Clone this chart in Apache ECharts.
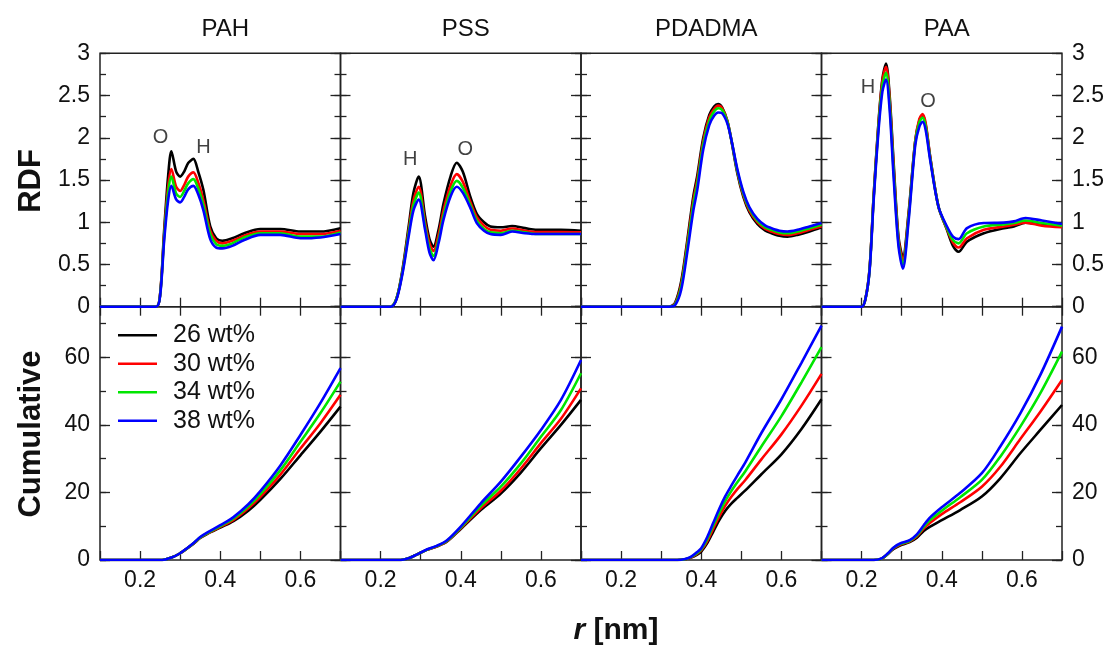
<!DOCTYPE html>
<html>
<head>
<meta charset="utf-8">
<script src="https://cdn.jsdelivr.net/npm/echarts@6/dist/echarts.min.js"></script>
<style>
html,body{margin:0;padding:0;background:#fff;}
#chart{width:1110px;height:648px;}
</style>
</head>
<body>
<div id="chart"></div>
<script>
// ---------------- DATA ----------------
const polymers = ['PAH', 'PSS', 'PDADMA', 'PAA'];
const concentrations = ['26 wt%', '30 wt%', '34 wt%', '38 wt%'];
const xTickLabels = ['0.2', '0.4', '0.6'];
const rdfTickLabels = ['0', '0.5', '1', '1.5', '2', '2.5', '3'];
const cumTickLabels = ['0', '20', '40', '60'];

// RDF – PAH
const pahRdfR  = [0.10, 0.24, 0.25, 0.26, 0.27, 0.278, 0.29, 0.30, 0.31, 0.32, 0.333, 0.345, 0.358, 0.375, 0.39, 0.405, 0.43, 0.46, 0.50, 0.55, 0.60, 0.65, 0.70];
const pahRdf26 = [0, 0, 0.15, 0.9, 1.55, 1.84, 1.6, 1.54, 1.6, 1.7, 1.75, 1.6, 1.38, 0.95, 0.81, 0.78, 0.81, 0.87, 0.92, 0.92, 0.89, 0.89, 0.93];
const pahRdf30 = [0, 0, 0.15, 0.85, 1.42, 1.63, 1.42, 1.37, 1.44, 1.54, 1.59, 1.47, 1.26, 0.9, 0.78, 0.75, 0.78, 0.84, 0.89, 0.89, 0.86, 0.86, 0.90];
const pahRdf34 = [0, 0, 0.14, 0.82, 1.35, 1.54, 1.34, 1.30, 1.37, 1.46, 1.51, 1.40, 1.2, 0.86, 0.74, 0.72, 0.75, 0.82, 0.87, 0.87, 0.83, 0.83, 0.88];
const pahRdf38 = [0, 0, 0.13, 0.78, 1.26, 1.43, 1.27, 1.235, 1.3, 1.39, 1.43, 1.33, 1.14, 0.8, 0.7, 0.69, 0.72, 0.79, 0.85, 0.85, 0.81, 0.82, 0.86];

// RDF – PSS
const pssRdfR  = [0.10, 0.225, 0.24, 0.255, 0.27, 0.282, 0.295, 0.311, 0.322, 0.332, 0.345, 0.357, 0.375, 0.39, 0.405, 0.424, 0.44, 0.458, 0.474, 0.50, 0.528, 0.56, 0.59, 0.65, 0.70];
const pssRdf26 = [0, 0, 0.1, 0.45, 0.95, 1.35, 1.54, 1.07, 0.8, 0.71, 0.92, 1.22, 1.55, 1.705, 1.6, 1.30, 1.1, 1.0, 0.95, 0.94, 0.955, 0.93, 0.91, 0.91, 0.90];
const pssRdf30 = [0, 0, 0.1, 0.43, 0.9, 1.26, 1.42, 1.0, 0.75, 0.66, 0.86, 1.14, 1.44, 1.57, 1.48, 1.24, 1.06, 0.96, 0.91, 0.9, 0.925, 0.9, 0.885, 0.885, 0.88];
const pssRdf34 = [0, 0, 0.1, 0.42, 0.87, 1.2, 1.35, 0.95, 0.69, 0.60, 0.8, 1.08, 1.37, 1.49, 1.41, 1.2, 1.02, 0.92, 0.88, 0.87, 0.9, 0.88, 0.86, 0.86, 0.86];
const pssRdf38 = [0, 0, 0.09, 0.40, 0.83, 1.14, 1.27, 0.91, 0.64, 0.55, 0.76, 1.03, 1.31, 1.42, 1.35, 1.17, 0.99, 0.9, 0.86, 0.85, 0.89, 0.87, 0.86, 0.86, 0.86];

// RDF – PDADMA
const pdadmaRdfR  = [0.10, 0.32, 0.335, 0.35, 0.365, 0.38, 0.39, 0.405, 0.42, 0.432, 0.442, 0.452, 0.465, 0.475, 0.49, 0.505, 0.52, 0.54, 0.56, 0.575, 0.595, 0.615, 0.64, 0.67, 0.70];
const pdadmaRdf26 = [0, 0, 0.05, 0.3, 0.78, 1.3, 1.55, 2.0, 2.27, 2.37, 2.40, 2.36, 2.2, 1.97, 1.58, 1.3, 1.12, 0.98, 0.9, 0.87, 0.84, 0.83, 0.85, 0.89, 0.94];
const pdadmaRdf30 = [0, 0, 0.04, 0.27, 0.74, 1.25, 1.5, 1.96, 2.24, 2.34, 2.38, 2.35, 2.2, 1.98, 1.6, 1.32, 1.14, 1.0, 0.92, 0.89, 0.86, 0.85, 0.87, 0.91, 0.95];
const pdadmaRdf34 = [0, 0, 0.03, 0.24, 0.70, 1.2, 1.45, 1.92, 2.2, 2.31, 2.35, 2.33, 2.19, 1.98, 1.61, 1.34, 1.16, 1.02, 0.94, 0.91, 0.88, 0.87, 0.89, 0.93, 0.97];
const pdadmaRdf38 = [0, 0, 0.02, 0.2, 0.64, 1.13, 1.38, 1.86, 2.15, 2.26, 2.3, 2.29, 2.17, 1.98, 1.63, 1.36, 1.18, 1.04, 0.96, 0.93, 0.9, 0.89, 0.91, 0.95, 0.99];

// RDF – PAA
const paaRdfR  = [0.10, 0.20, 0.21, 0.22, 0.23, 0.242, 0.252, 0.261, 0.27, 0.28, 0.292, 0.303, 0.317, 0.334, 0.344, 0.352, 0.36, 0.371, 0.392, 0.413, 0.428, 0.442, 0.463, 0.505, 0.555, 0.58, 0.609, 0.65, 0.70];
const paaRdf26 = [0, 0, 0.1, 0.45, 1.3, 2.17, 2.7, 2.88, 2.5, 1.70, 0.83, 0.59, 1.1, 1.97, 2.2, 2.27, 2.15, 1.78, 1.18, 0.91, 0.72, 0.65, 0.77, 0.87, 0.93, 0.95, 0.995, 0.97, 0.955];
const paaRdf30 = [0, 0, 0.1, 0.45, 1.3, 2.15, 2.68, 2.84, 2.46, 1.65, 0.8, 0.55, 1.07, 1.97, 2.22, 2.28, 2.17, 1.78, 1.18, 0.92, 0.76, 0.70, 0.81, 0.91, 0.95, 0.97, 0.995, 0.96, 0.94];
const paaRdf34 = [0, 0, 0.1, 0.44, 1.28, 2.12, 2.62, 2.77, 2.4, 1.6, 0.76, 0.5, 1.04, 1.95, 2.18, 2.24, 2.13, 1.76, 1.18, 0.93, 0.79, 0.75, 0.87, 0.95, 0.975, 0.99, 1.02, 0.99, 0.96];
const paaRdf38 = [0, 0, 0.1, 0.43, 1.25, 2.07, 2.55, 2.69, 2.33, 1.53, 0.72, 0.45, 1.0, 1.92, 2.13, 2.19, 2.09, 1.74, 1.18, 0.95, 0.83, 0.80, 0.93, 0.99, 0.995, 1.01, 1.05, 1.02, 0.98];

// Cumulative – PAH
const pahCumR  = [0.10, 0.255, 0.28, 0.30, 0.317, 0.335, 0.35, 0.367, 0.40, 0.433, 0.47, 0.50, 0.55, 0.60, 0.65, 0.70];
const pahCum26 = [0, 0, 0.8, 2.0, 3.4, 5.0, 6.5, 7.7, 9.6, 11.5, 14.6, 17.8, 24.0, 31.0, 38.0, 45.4];
const pahCum30 = [0, 0, 0.8, 2.0, 3.4, 5.0, 6.6, 7.8, 9.8, 11.9, 15.3, 18.7, 25.3, 33.0, 40.5, 48.9];
const pahCum34 = [0, 0, 0.8, 2.0, 3.4, 5.1, 6.7, 7.9, 10.0, 12.3, 15.9, 19.5, 26.6, 35.0, 43.5, 52.8];
const pahCum38 = [0, 0, 0.8, 2.0, 3.5, 5.2, 6.8, 8.1, 10.3, 12.7, 16.5, 20.4, 28.0, 37.0, 46.5, 56.8];

// Cumulative – PSS
const pssCumR  = [0.10, 0.25, 0.27, 0.29, 0.315, 0.34, 0.365, 0.40, 0.45, 0.50, 0.55, 0.60, 0.65, 0.70];
const pssCum26 = [0, 0, 0.5, 1.6, 3.0, 4.0, 5.4, 9.2, 14.8, 19.7, 25.9, 33.1, 40.0, 47.4];
const pssCum30 = [0, 0, 0.5, 1.6, 3.0, 4.0, 5.5, 9.4, 15.3, 20.5, 27.1, 34.6, 41.8, 50.8];
const pssCum34 = [0, 0, 0.5, 1.6, 3.0, 4.1, 5.6, 9.6, 16.0, 21.7, 28.6, 36.5, 44.4, 55.3];
const pssCum38 = [0, 0, 0.5, 1.6, 3.1, 4.2, 5.8, 9.9, 16.8, 23.2, 30.6, 38.5, 47.4, 59.2];

// Cumulative – PDADMA
const pdadmaCumR  = [0.10, 0.34, 0.36, 0.375, 0.39, 0.40, 0.415, 0.43, 0.445, 0.46, 0.475, 0.49, 0.51, 0.55, 0.60, 0.65, 0.70];
const pdadmaCum26 = [0, 0, 0.2, 0.7, 1.6, 2.5, 5.0, 8.4, 11.8, 14.6, 16.7, 18.4, 20.6, 25.4, 31.3, 38.8, 47.6];
const pdadmaCum30 = [0, 0, 0.2, 0.8, 1.9, 2.9, 5.6, 9.3, 12.9, 16.1, 18.7, 21.0, 23.7, 29.8, 37.2, 45.7, 55.1];
const pdadmaCum34 = [0, 0, 0.2, 0.9, 2.1, 3.2, 6.2, 10.2, 14.0, 17.5, 20.4, 23.0, 26.3, 33.6, 42.6, 52.6, 63.0];
const pdadmaCum38 = [0, 0, 0.3, 1.0, 2.4, 3.5, 6.8, 11.0, 15.2, 18.9, 22.0, 25.0, 28.9, 37.6, 47.6, 58.4, 69.4];

// Cumulative – PAA
const paaCumR  = [0.10, 0.23, 0.25, 0.265, 0.28, 0.296, 0.32, 0.338, 0.355, 0.371, 0.40, 0.446, 0.50, 0.546, 0.596, 0.646, 0.70];
const paaCum26 = [0, 0, 0.4, 1.7, 3.3, 4.3, 5.3, 6.6, 8.6, 9.9, 11.8, 14.8, 18.8, 24.2, 31.6, 38.5, 45.9];
const paaCum30 = [0, 0, 0.4, 1.8, 3.5, 4.5, 5.5, 7.0, 9.3, 11.0, 13.6, 17.1, 21.7, 27.6, 35.8, 43.9, 53.3];
const paaCum34 = [0, 0, 0.4, 1.8, 3.6, 4.7, 5.7, 7.3, 9.8, 11.8, 14.6, 18.6, 23.7, 30.6, 39.5, 49.4, 61.7];
const paaCum38 = [0, 0, 0.5, 1.9, 3.7, 4.9, 5.9, 7.6, 10.3, 12.6, 15.6, 19.9, 25.7, 33.6, 43.4, 54.8, 69.1];

// Peak annotations (panel index, text, r, g)
const annoPanel = [0, 0, 1, 1, 3, 3];
const annoText  = ['O', 'H', 'H', 'O', 'H', 'O'];
const annoR     = [0.251, 0.358, 0.274, 0.411, 0.216, 0.366];
const annoG     = [2.0, 1.88, 1.74, 1.86, 2.6, 2.43];

// ---------------- BUILD ----------------
const rdfR   = [pahRdfR, pssRdfR, pdadmaRdfR, paaRdfR];
const rdfY   = [[pahRdf26, pahRdf30, pahRdf34, pahRdf38], [pssRdf26, pssRdf30, pssRdf34, pssRdf38],
                [pdadmaRdf26, pdadmaRdf30, pdadmaRdf34, pdadmaRdf38], [paaRdf26, paaRdf30, paaRdf34, paaRdf38]];
const cumR   = [pahCumR, pssCumR, pdadmaCumR, paaCumR];
const cumY   = [[pahCum26, pahCum30, pahCum34, pahCum38], [pssCum26, pssCum30, pssCum34, pssCum38],
                [pdadmaCum26, pdadmaCum30, pdadmaCum34, pdadmaCum38], [paaCum26, paaCum30, paaCum34, paaCum38]];

const colors = ['#000000', '#ff0000', '#00e600', '#0000ff'];
const FONT = '"Liberation Sans", Arial, Helvetica, sans-serif';
const GL = 100, GW = 240.5;
const rowTop = [53.3, 306.7], rowH = [253.4, 253.3];
const LBL = 23;

const grids = [], xAxes = [], yAxes = [], series = [];
const tickColor = '#222';

function yAxisPair(gi, side, row, col) {
  const isRdf = row === 0;
  const showLbl = (side === 'left' && col === 0) || (side === 'right' && col === 3);
  const base = {
    type: 'value', gridIndex: gi, position: side,
    min: 0, max: isRdf ? 3 : 75,
    axisLine: { show: false }, splitLine: { show: false }
  };
  const major = Object.assign({}, base, {
    interval: isRdf ? 0.5 : 20,
    axisTick: { show: true, inside: true, length: 10, lineStyle: { color: tickColor, width: 1.3 } },
    axisLabel: {
      show: showLbl, margin: 10, fontSize: LBL, color: '#111', fontFamily: FONT,
      formatter: function (v) {
        const lbls = isRdf ? rdfTickLabels : cumTickLabels;
        const s = String(Math.round(v * 100) / 100);
        return lbls.indexOf(s) >= 0 ? s : '';
      }
    }
  });
  const minor = Object.assign({}, base, {
    interval: isRdf ? 0.25 : 10,
    axisTick: { show: true, inside: true, length: 6, lineStyle: { color: tickColor, width: 1.3 } },
    axisLabel: { show: false }
  });
  yAxes.push(major); const mi = yAxes.length - 1;
  yAxes.push(minor);
  return mi;
}

for (let row = 0; row < 2; row++) {
  for (let col = 0; col < 4; col++) {
    const gi = grids.length;
    grids.push({
      left: GL + col * GW, top: rowTop[row], width: GW, height: rowH[row],
      show: true, borderColor: '#222', borderWidth: 1.5, backgroundColor: 'transparent'
    });
    xAxes.push({
      type: 'value', gridIndex: gi, position: 'bottom', min: 0.1, max: 0.7, interval: 0.1,
      axisLine: { show: false }, splitLine: { show: false },
      axisTick: { show: true, inside: true, length: 9, lineStyle: { color: tickColor, width: 1.3 } },
      axisLabel: {
        show: row === 1, margin: 9, fontSize: LBL, color: '#111', fontFamily: FONT,
        formatter: function (v) {
          const s = (Math.round(v * 10) / 10).toFixed(1);
          return xTickLabels.indexOf(s) >= 0 ? s : '';
        }
      }
    });
    const xi = xAxes.length - 1;
    if (row === 0) {
      xAxes.push({
        type: 'value', gridIndex: gi, position: 'top', min: 0.1, max: 0.7, interval: 0.1,
        axisLine: { show: false }, splitLine: { show: false },
        axisTick: { show: true, inside: true, length: 9, lineStyle: { color: tickColor, width: 1.3 } },
        axisLabel: { show: false }
      });
    }
    const yi = yAxisPair(gi, 'left', row, col);
    yAxisPair(gi, 'right', row, col);

    const R = row === 0 ? rdfR[col] : cumR[col];
    const Ys = row === 0 ? rdfY[col] : cumY[col];
    for (let s = 0; s < 4; s++) {
      series.push({
        name: concentrations[s], type: 'line', xAxisIndex: xi, yAxisIndex: yi,
        data: R.map((x, i) => [x, Ys[s][i]]),
        showSymbol: false, symbol: 'none', smooth: 0.3, clip: true,
        color: colors[s],
        lineStyle: { color: colors[s], width: 2.6 },
        itemStyle: { color: colors[s] },
        z: 2 + s
      });
    }
    if (row === 0) {
      const pts = [];
      for (let k = 0; k < annoPanel.length; k++) {
        if (annoPanel[k] === col) pts.push({ name: annoText[k], value: [annoR[k], annoG[k]] });
      }
      if (pts.length) {
        series.push({
          type: 'scatter', xAxisIndex: xi, yAxisIndex: yi, data: pts,
          symbolSize: 1, itemStyle: { color: 'rgba(0,0,0,0)' }, silent: true, z: 10,
          label: { show: true, position: 'inside', formatter: '{b}', color: '#111', fontSize: 20, fontFamily: FONT }
        });
      }
    }
  }
}

const titles = polymers.map((p, i) => ({
  text: p, left: GL + i * GW + GW / 2, top: 12, textAlign: 'center',
  textStyle: { fontSize: 24, fontWeight: 'normal', color: '#111', fontFamily: FONT }
}));
titles.push({
  text: '{i|r} [nm]', left: 611, top: 611, textAlign: 'center',
  textStyle: {
    fontSize: 30, fontWeight: 'bold', color: '#111', fontFamily: FONT,
    rich: { i: { fontStyle: 'italic', fontWeight: 'bold', fontSize: 30, fontFamily: FONT, color: '#111' } }
  }
});

const chart = echarts.init(document.getElementById('chart'), null, { renderer: 'canvas' });
chart.setOption({
  animation: false,
  backgroundColor: '#ffffff',
  title: titles,
  grid: grids,
  xAxis: xAxes,
  yAxis: yAxes,
  legend: {
    data: concentrations, orient: 'vertical', left: 113, top: 316,
    icon: 'rect', itemWidth: 39, itemHeight: 2.5, itemGap: 0,
    selectedMode: false,
    textStyle: { fontSize: 25, color: '#111', fontFamily: FONT, lineHeight: 28.5, padding: [0, 0, 0, 11] }
  },
  graphic: [
    { type: 'text', x: 31, y: 181, rotation: Math.PI / 2,
      style: { text: 'RDF', font: 'bold 31px ' + FONT, fill: '#111', textAlign: 'center', textVerticalAlign: 'middle', align: 'center', verticalAlign: 'middle' } },
    { type: 'text', x: 31, y: 434, rotation: Math.PI / 2,
      style: { text: 'Cumulative', font: 'bold 31px ' + FONT, fill: '#111', textAlign: 'center', textVerticalAlign: 'middle', align: 'center', verticalAlign: 'middle' } }
  ],
  series: series
});
</script>
</body>
</html>
